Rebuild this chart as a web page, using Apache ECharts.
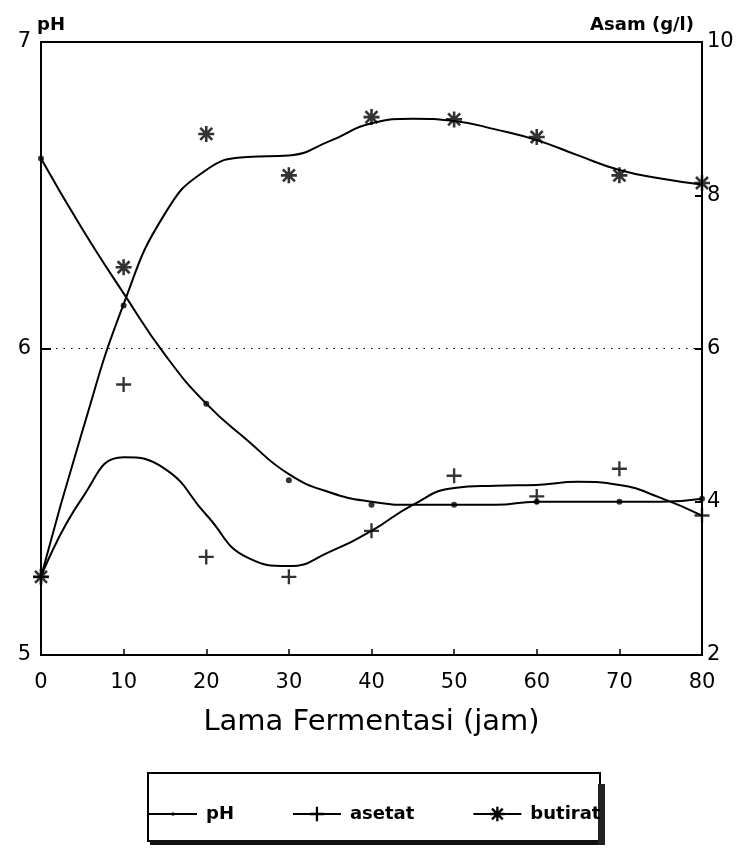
<!DOCTYPE html>
<html><head><meta charset="utf-8">
<script src="https://cdn.jsdelivr.net/npm/echarts/dist/echarts.min.js"></script>
<style>html,body{margin:0;padding:0;background:#fff}#c{width:738px;height:850px}</style>
</head><body><div id="c"></div>
<script>
// Measured points (hours)
const hours = [0, 10, 20, 30, 40, 50, 60, 70, 80];
const phValues = [6.62, 6.14, 5.82, 5.57, 5.49, 5.49, 5.50, 5.50, 5.51];
const asetatValues = [3.02, 5.53, 3.28, 3.02, 3.62, 4.34, 4.07, 4.43, 3.82];
const butiratValues = [3.02, 7.06, 8.80, 8.26, 9.02, 8.99, 8.76, 8.26, 8.16];

// Fitted curves as drawn in the figure (every 5 hours)
const curveHours = [0, 5, 10, 15, 20, 25, 30, 35, 40, 45, 50, 55, 60, 65, 70, 75, 80];
const phCurve = [6.62, 6.39, 6.18, 5.98, 5.82, 5.70, 5.59, 5.53, 5.50, 5.49, 5.49, 5.49, 5.50, 5.50, 5.50, 5.50, 5.51];
const asetatCurve = [3.02, 4.05, 4.58, 4.43, 3.83, 3.27, 3.16, 3.35, 3.62, 3.96, 4.18, 4.21, 4.22, 4.26, 4.22, 4.05, 3.82];
const butiratCurve = [3.02, 4.92, 6.58, 7.76, 8.33, 8.50, 8.52, 8.71, 8.94, 9.00, 8.97, 8.86, 8.72, 8.52, 8.33, 8.22, 8.14];

const xTicks = [0, 10, 20, 30, 40, 50, 60, 70, 80];
const seriesNames = ['pH', 'asetat', 'butirat'];
const xTitle = 'Lama Fermentasi (jam)';
const leftTitle = 'pH';
const rightTitle = 'Asam (g/l)';

const FONT = 'DejaVu Sans';
const plusSym = 'path://M5.9,0H8.1V14H5.9Z M0,5.9H14V8.1H0Z';
const starSym = 'path://M6.7,0H9.3V16H6.7Z M0,6.7H16V9.3H0Z M2.92,1.08L14.92,13.08L13.08,14.92L1.08,2.92Z M14.92,2.92L2.92,14.92L1.08,13.08L13.08,1.08Z';
const dotLegendSym = 'path://M0,0M20,20M7.6,10A2.4,2.4,0,1,0,12.4,10A2.4,2.4,0,1,0,7.6,10Z';

const zip = (xs, ys) => xs.map((x, i) => [x, ys[i]]);

const chart = echarts.init(document.getElementById('c'), null, {renderer: 'canvas'});
const lineBase = {type: 'line', smooth: 0.5, showSymbol: false, lineStyle: {color: '#000', width: 2}, itemStyle: {color: '#000'}, animation: false, z: 3};
const scatBase = {type: 'scatter', itemStyle: {color: '#000'}, animation: false, z: 4};

chart.setOption({
  animation: false,
  backgroundColor: '#fff',
  grid: {left: 41, right: 36, top: 42, bottom: 195, show: true, borderColor: '#000', borderWidth: 2, backgroundColor: 'transparent', outerBoundsMode: 'none', containLabel: false},
  xAxis: {
    type: 'value', min: 0, max: 80, interval: 10,
    name: xTitle, nameLocation: 'middle', nameGap: 53,
    nameTextStyle: {fontFamily: FONT, fontSize: 29, color: '#000'},
    axisLine: {show: true, lineStyle: {color: '#000', width: 2}},
    axisTick: {show: true, inside: true, length: 6, lineStyle: {color: '#000', width: 1.5}},
    axisLabel: {show: true, margin: 17, fontFamily: FONT, fontSize: 21, color: '#000',
      customValues: xTicks},
    splitLine: {show: false}
  },
  yAxis: [{
    type: 'value', min: 5, max: 7, interval: 1, position: 'left',
    name: leftTitle, nameLocation: 'end', nameGap: 8,
    nameTextStyle: {fontFamily: FONT, fontSize: 18, fontWeight: 'bold', color: '#000', align: 'center', padding: [0, 0, 0, 20]},
    axisLine: {show: true, lineStyle: {color: '#000', width: 2}},
    axisTick: {show: true, inside: true, length: 10, lineStyle: {color: '#000', width: 2}},
    axisLabel: {margin: 10, fontFamily: FONT, fontSize: 21, color: '#000'},
    splitLine: {show: true, lineStyle: {type: [1.5, 6], color: '#000', width: 1.2}}
  }, {
    type: 'value', min: 2, max: 10, interval: 2, position: 'right',
    name: rightTitle, nameLocation: 'end', nameGap: 8,
    nameTextStyle: {fontFamily: FONT, fontSize: 18, fontWeight: 'bold', color: '#000', align: 'right', padding: [0, 8, 0, 0]},
    axisLine: {show: true, lineStyle: {color: '#000', width: 2}},
    axisTick: {show: true, inside: true, length: 7, lineStyle: {color: '#000', width: 2}},
    axisLabel: {margin: 5, fontFamily: FONT, fontSize: 21, color: '#000'},
    splitLine: {show: false}
  }],
  legend: {
    show: true, left: 143, top: 800, orient: 'horizontal',
    itemWidth: 48, itemHeight: 18, itemGap: 58,
    data: seriesNames,
    textStyle: {fontFamily: FONT, fontSize: 18, fontWeight: 'bold', color: '#000', padding: [0, 0, 0, 4]},
    selectedMode: false
  },
  graphic: [
    {type: 'rect', shape: {x: 148, y: 773, width: 452, height: 68}, style: {fill: 'none', stroke: '#000', lineWidth: 2}, z: 1},
    {type: 'rect', shape: {x: 150, y: 840, width: 455, height: 5}, style: {fill: '#111'}, z: 1},
    {type: 'rect', shape: {x: 598, y: 784, width: 7, height: 61}, style: {fill: '#222'}, z: 1}
  ],
  series: [
    Object.assign({}, lineBase, {name: seriesNames[0], yAxisIndex: 0, symbol: dotLegendSym, data: zip(curveHours, phCurve)}),
    Object.assign({}, lineBase, {name: seriesNames[1], yAxisIndex: 1, symbol: plusSym, data: zip(curveHours, asetatCurve)}),
    Object.assign({}, lineBase, {name: seriesNames[2], yAxisIndex: 1, symbol: starSym, data: zip(curveHours, butiratCurve)}),
    Object.assign({}, scatBase, {name: seriesNames[0], yAxisIndex: 0, symbol: 'circle', symbolSize: 6, data: zip(hours, phValues)}),
    Object.assign({}, scatBase, {name: seriesNames[1], yAxisIndex: 1, symbol: plusSym, symbolSize: 15, data: zip(hours, asetatValues)}),
    Object.assign({}, scatBase, {name: seriesNames[2], yAxisIndex: 1, symbol: starSym, symbolSize: 16, data: zip(hours, butiratValues)})
  ]
});
</script>
</body></html>
